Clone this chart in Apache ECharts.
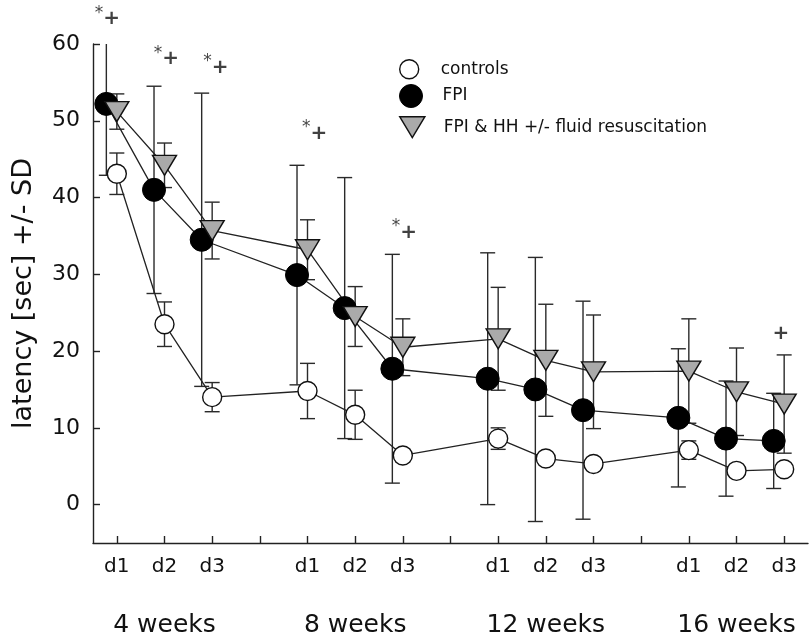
<!DOCTYPE html>
<html>
<head>
<meta charset="utf-8">
<script src="https://cdn.jsdelivr.net/npm/echarts@6/dist/echarts.min.js"></script>
<style>
  html, body { margin: 0; padding: 0; background: #fff; }
  #chart { width: 809px; height: 642px; }
</style>
</head>
<body>
<div id="chart"></div>
<script>
// x slots, a gap is left at 4, 8 and 12 between the weeks
const slots = [1, 2, 3, 5, 6, 7, 9, 10, 11, 13, 14, 15];
const dayLabels = ['d1', 'd2', 'd3', 'd1', 'd2', 'd3', 'd1', 'd2', 'd3', 'd1', 'd2', 'd3'];
const tickSlots = [1, 2, 3, 4, 5, 6, 7, 8, 9, 10, 11, 12, 13, 14, 15];
const weekSlots = [2, 6, 10, 14];
const weekLabels = ['4 weeks', '8 weeks', '12 weeks', '16 weeks'];
const yTicks = [0, 10, 20, 30, 40, 50, 60];

// latency [sec], mean and SD
const controlsMean = [43.1, 23.5, 14.0, 14.8, 11.7, 6.4, 8.6, 6.0, 5.3, 7.1, 4.4, 4.6];
const controlsSD = [2.7, 2.9, 1.9, 3.6, 3.2, 0.8, 1.4, 0.7, 0.6, 1.2, 0.6, 0.6];
const fpiMean = [52.2, 41.0, 34.5, 29.9, 25.6, 17.7, 16.4, 15.0, 12.3, 11.3, 8.6, 8.3];
const fpiSD = [9.3, 13.5, 19.1, 14.3, 17.0, 14.9, 16.4, 17.2, 14.2, 9.0, 7.5, 6.2];
const hhMean = [51.2, 44.2, 35.7, 33.2, 24.5, 20.5, 21.6, 18.8, 17.3, 17.4, 14.7, 13.1];
const hhSD = [2.3, 2.9, 3.7, 3.9, 3.9, 3.7, 6.7, 7.3, 7.4, 6.8, 5.7, 6.4];

// significance marks
const annoX = [0.8, 2.04, 3.08, 5.15, 7.03, 14.93];
const annoY = [63.5, 58.3, 57.2, 48.6, 35.7, 22.5];
const annoText = ['*+', '*+', '*+', '*+', '*+', '+'];

const Y_MIN = -5, Y_MAX = 60;
const fpiShift = -0.22;   // FPI drawn a little left of the tick
const font = "'DejaVu Sans', sans-serif";
const ink = '#111';

const chart = echarts.init(document.getElementById('chart'), null, { renderer: 'canvas' });

function errorBars(name, xs, means, sds) {
  return {
    name: name,
    type: 'custom',
    silent: true,
    z: 2,
    data: xs.map((x, i) => [x, means[i], sds[i]]),
    encode: { x: 0, y: 1 },
    renderItem: function (params, api) {
      const x = api.value(0), m = api.value(1), s = api.value(2);
      const hiV = Math.min(m + s, Y_MAX), loV = Math.max(m - s, Y_MIN);
      const hi = api.coord([x, hiV]);
      const lo = api.coord([x, loV]);
      const st = { stroke: '#2a2a2a', lineWidth: 1.4 };
      const w = 7.5;
      const kids = [{ type: 'line', shape: { x1: hi[0], y1: hi[1], x2: lo[0], y2: lo[1] }, style: st }];
      if (m + s <= Y_MAX) kids.push({ type: 'line', shape: { x1: hi[0] - w, y1: hi[1], x2: hi[0] + w, y2: hi[1] }, style: st });
      if (m - s >= Y_MIN) kids.push({ type: 'line', shape: { x1: lo[0] - w, y1: lo[1], x2: lo[0] + w, y2: lo[1] }, style: st });
      return { type: 'group', children: kids };
    }
  };
}

const fpiX = slots.map(s => s + fpiShift);

function legendBox(top, h, item) {
  return {
    left: 399, top: top, padding: 0, itemWidth: 53, itemHeight: h,
    selectedMode: false,
    textStyle: { fontFamily: font, fontSize: 17, color: ink },
    data: [item]
  };
}

const option = {
  backgroundColor: '#fff',
  animation: false,
  grid: { left: 93, right: 1, top: 44, bottom: 99 },
  legend: [
    legendBox(59, 19, { name: 'controls', icon: 'circle', itemStyle: { color: '#fff', borderColor: '#111', borderWidth: 1.4 } }),
    legendBox(84, 23, { name: 'FPI', icon: 'circle', itemStyle: { color: '#000', borderColor: '#000', borderWidth: 1 } }),
    legendBox(116, 21, { name: 'FPI & HH +/- fluid resuscitation', icon: 'path://M0,0L24,0L12,20Z', itemStyle: { color: '#aaaaaa', borderColor: '#111', borderWidth: 1.4 } })
  ],
  xAxis: [
    {
      type: 'value', min: 0.5, max: 15.5,
      axisLine: { onZero: false, lineStyle: { color: '#222', width: 1.4 } },
      axisTick: { inside: true, length: 7, customValues: tickSlots, lineStyle: { color: '#222', width: 1.4 } },
      axisLabel: {
        customValues: slots, margin: 14,
        fontFamily: font, fontSize: 20, color: ink,
        formatter: v => dayLabels[slots.indexOf(v)] || ''
      },
      splitLine: { show: false }
    },
    {
      type: 'value', min: 0.5, max: 15.5, position: 'bottom', offset: 58,
      axisLine: { show: false, onZero: false },
      axisTick: { show: false },
      axisLabel: {
        customValues: weekSlots, margin: 12,
        fontFamily: font, fontSize: 25, color: ink,
        formatter: v => weekLabels[weekSlots.indexOf(v)] || ''
      },
      splitLine: { show: false }
    }
  ],
  yAxis: {
    type: 'value', min: Y_MIN, max: Y_MAX,
    name: 'latency [sec] +/- SD',
    nameLocation: 'middle', nameGap: 56,
    nameTextStyle: { fontFamily: font, fontSize: 27, color: ink },
    axisLine: { show: true, onZero: false, lineStyle: { color: '#222', width: 1.4 } },
    axisTick: { show: true, inside: true, length: 7, customValues: yTicks, lineStyle: { color: '#222', width: 1.4 } },
    axisLabel: { customValues: yTicks, margin: 13, fontFamily: font, fontSize: 22, color: ink },
    splitLine: { show: false }
  },
  series: [
    errorBars('controls sd', slots, controlsMean, controlsSD),
    errorBars('FPI sd', fpiX, fpiMean, fpiSD),
    errorBars('HH sd', slots, hhMean, hhSD),
    {
      name: 'controls', type: 'line', z: 3,
      data: slots.map((s, i) => [s, controlsMean[i]]),
      symbol: 'circle', symbolSize: 19,
      lineStyle: { color: '#222', width: 1.3 },
      itemStyle: { color: '#fff', borderColor: '#111', borderWidth: 1.4 },
      emphasis: { disabled: true }
    },
    {
      name: 'FPI', type: 'line', z: 3,
      data: fpiX.map((x, i) => [x, fpiMean[i]]),
      symbol: 'circle', symbolSize: 23,
      lineStyle: { color: '#222', width: 1.3 },
      itemStyle: { color: '#000', borderColor: '#000', borderWidth: 1 },
      emphasis: { disabled: true }
    },
    {
      name: 'FPI & HH +/- fluid resuscitation', type: 'line', z: 3,
      data: slots.map((s, i) => [s, hhMean[i]]),
      symbol: 'triangle', symbolRotate: 180, symbolSize: [24, 20],
      lineStyle: { color: '#222', width: 1.3 },
      itemStyle: { color: '#aaaaaa', borderColor: '#111', borderWidth: 1.4 },
      emphasis: { disabled: true }
    },
    {
      name: 'marks', type: 'scatter', z: 4, clip: false, silent: true,
      symbolSize: 0,
      data: annoX.map((x, i) => [x, annoY[i], annoText[i]]),
      label: {
        show: true, position: 'inside', color: ink,
        formatter: p => p.value[2] === '*+' ? '{s|*}{p|+}' : '{p|+}',
        rich: {
          s: { fontFamily: font, fontSize: 17, verticalAlign: 'top', lineHeight: 24 },
          p: { fontFamily: font, fontSize: 20, fontWeight: 'bold', verticalAlign: 'bottom', lineHeight: 24 }
        }
      }
    }
  ]
};

chart.setOption(option);
</script>
</body>
</html>
